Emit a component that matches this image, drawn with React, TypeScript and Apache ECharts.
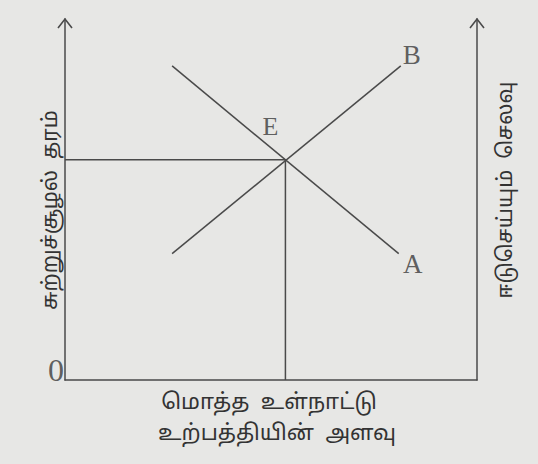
import React, { useEffect, useRef } from "react";
import * as echarts from "echarts";

// Data (x: output quantity, y: environmental quality), scale 0..100
const lineA: [number, number][] = [[26, 87], [81, 35]];
const lineB: [number, number][] = [[26, 35], [81.5, 87]];
const pointE: [number, number] = [53.5, 61];
const guideH: [number, number][] = [[0, 61], [53.5, 61]];
const guideV: [number, number][] = [[53.5, 61], [53.5, 0]];
const arrowTips: [number, number][] = [[0, 100], [100, 100]];
const pointLabels = ["E", "A", "B", "0"];
const leftAxisTitle = "சுற்றுச்சூழல்  தரம்";
const rightAxisTitle = "ஈடுசெய்யும்  செலவு";
const bottomTitle = ["மொத்த  உள்நாட்டு", "உற்பத்தியின்  அளவு"];

const INK = "#4a4a4a";
const TAMIL_FONT = "'Noto Sans Tamil', 'Lohit Tamil', 'Noto Sans', sans-serif";
const SERIF = "'Liberation Serif', 'DejaVu Serif', serif";

export default function App() {
  const ref = useRef<HTMLDivElement>(null);
  useEffect(() => {
    document.body.style.margin = "0";
    const chart = echarts.init(ref.current!, null, { renderer: "svg" });
    const lineStyle = { color: INK, width: 1.5 };
    const axisBase = {
      type: "value" as const,
      min: 0,
      max: 100,
      axisTick: { show: false },
      axisLabel: { show: false },
      splitLine: { show: false },
    };
    const axisLine = { show: true, onZero: false, lineStyle: { color: INK, width: 1.5 } };
    const textStyle = (text: string, size: number) => ({
      text,
      fontSize: size,
      fontFamily: TAMIL_FONT,
      fill: "#333",
      align: "center",
      verticalAlign: "middle",
    });
    chart.setOption({
      animation: false,
      backgroundColor: "#e7e7e5",
      grid: { left: 65, right: 61, top: 19, bottom: 84 },
      xAxis: { ...axisBase, axisLine },
      yAxis: [
        { ...axisBase, position: "left", axisLine },
        { ...axisBase, position: "right", axisLine },
      ],
      series: [
        { type: "line", data: lineA, symbol: "none", lineStyle, silent: true },
        { type: "line", data: lineB, symbol: "none", lineStyle, silent: true },
        { type: "line", data: guideH, symbol: "none", lineStyle, silent: true },
        { type: "line", data: guideV, symbol: "none", lineStyle, silent: true },
        {
          type: "custom",
          clip: false,
          silent: true,
          data: arrowTips,
          renderItem: (params: any, api: any) => {
            const p = api.coord([api.value(0), api.value(1)]);
            return {
              type: "polyline",
              shape: {
                points: [
                  [p[0] - 7, p[1] + 9],
                  [p[0], p[1]],
                  [p[0] + 7, p[1] + 9],
                ],
              },
              style: { stroke: INK, lineWidth: 1.6, fill: "none" },
            };
          },
        },
        {
          type: "scatter",
          symbolSize: 0,
          silent: true,
          data: [
            { value: pointE, label: { formatter: pointLabels[0], offset: [-15, -33], fontSize: 26 } },
            { value: lineA[1], label: { formatter: pointLabels[1], offset: [14, 10], fontSize: 27 } },
            { value: lineB[1], label: { formatter: pointLabels[2], offset: [11, -11], fontSize: 27 } },
            { value: [0, 0], label: { formatter: pointLabels[3], offset: [-9, -10], fontSize: 32 } },
          ],
          label: {
            show: true,
            position: "inside",
            color: "#3a3a3a",
            fontFamily: SERIF,
          },
        },
      ],
      graphic: [
        { type: "text", x: 52, y: 210, rotation: Math.PI / 2, style: textStyle(leftAxisTitle, 21) },
        { type: "text", x: 507, y: 190, rotation: Math.PI / 2, style: textStyle(rightAxisTitle, 21) },
        { type: "text", x: 269, y: 403, style: textStyle(bottomTitle[0], 22) },
        { type: "text", x: 277, y: 434, style: textStyle(bottomTitle[1], 22) },
      ],
    });
    return () => chart.dispose();
  }, []);
  return (
    <div
      ref={ref}
      style={{ position: "fixed", left: 0, top: 0, width: 538, height: 464 }}
    />
  );
}
